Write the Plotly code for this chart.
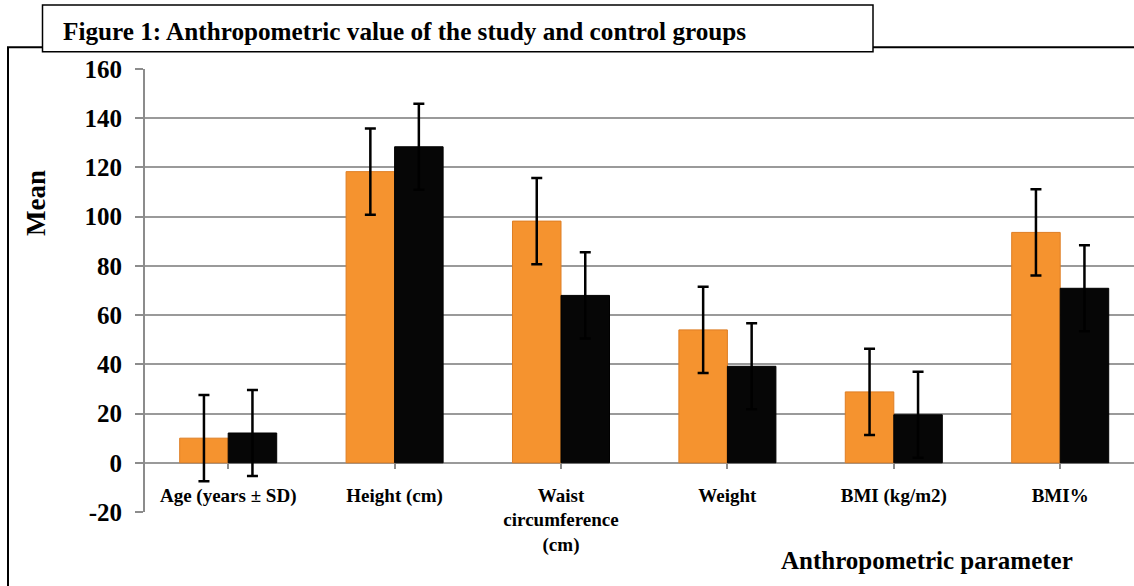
import plotly.graph_objects as go

categories = ["Age (years ± SD)", "Height (cm)", "Waist<br>circumference<br>(cm)",
              "Weight", "BMI (kg/m2)", "BMI%"]
study_means = [10.0, 118.3, 98.2, 54.0, 28.8, 93.6]
control_means = [12.1, 128.4, 68.0, 39.2, 19.5, 70.9]
study_sd = [17.5, 17.5, 17.5, 17.5, 17.5, 17.5]
control_sd = [17.5, 17.5, 17.5, 17.5, 17.5, 17.5]
y_ticks = [-20, 0, 20, 40, 60, 80, 100, 120, 140, 160]
y_tick_text = ["-20", "0", "20", "40", "60", "80", "100", "120", "140", "160"]

W_IMG, H_IMG = 1134, 586
L, R_PX, T, B_PX = 145, 1134, 69.3, 511.7
PW, PH = R_PX - L, B_PX - T


def xp(px):
    return (px - L) / PW


def yp(py):
    return (B_PX - py) / PH


FONT = "Liberation Serif"
x_idx = list(range(len(categories)))

fig = go.Figure()
fig.add_trace(go.Bar(
    x=x_idx, y=study_means, name="Study",
    marker=dict(color="#F5932F", line=dict(color="#DE7E24", width=1)),
    error_y=dict(type="data", array=study_sd, visible=True, color="black",
                 thickness=2.5, width=5.5),
))
fig.add_trace(go.Bar(
    x=x_idx, y=control_means, name="Control",
    marker=dict(color="#060606", line=dict(color="#000000", width=1)),
    error_y=dict(type="data", array=control_sd, visible=True, color="black",
                 thickness=2.5, width=5.5),
))

cat_w = (977 - 145) / 5.0
x_max = -0.5 + PW / cat_w

fig.update_layout(
    width=W_IMG, height=H_IMG,
    margin=dict(l=L, r=W_IMG - R_PX, t=T, b=H_IMG - B_PX, pad=0),
    paper_bgcolor="white", plot_bgcolor="white",
    barmode="group", bargap=0.417, bargroupgap=0,
    showlegend=False,
    xaxis=dict(
        range=[-0.5, x_max], tickmode="array", tickvals=x_idx, ticktext=categories,
        anchor="free", position=20 / 180, showgrid=False, showline=False,
        zeroline=False, ticks="outside", ticklen=5, tickcolor="#8C8C8C",
        tickwidth=1.5, tickson="boundaries",
        tickfont=dict(family=FONT, size=19, color="black", weight="bold"),
        ticklabelstandoff=10,
    ),
    yaxis=dict(
        range=[-20, 160], tickvals=y_ticks, ticktext=y_tick_text,
        showgrid=True, gridcolor="#9A9A9A",
        gridwidth=2, zeroline=True, zerolinecolor="#9A9A9A", zerolinewidth=2,
        showline=True, linecolor="#8C8C8C", linewidth=2, ticks="outside",
        ticklen=8, tickcolor="#8C8C8C", tickwidth=1.5,
        tickfont=dict(family=FONT, size=25, color="black", weight="bold"),
        ticklabelstandoff=8,
    ),
)

shapes = [
    dict(type="line", xref="paper", yref="paper", x0=xp(8), x1=xp(8), y0=yp(47.5), y1=yp(600),
         line=dict(color="black", width=2)),
    dict(type="line", xref="paper", yref="paper", x0=xp(7), x1=xp(1140), y0=yp(47.5), y1=yp(47.5),
         line=dict(color="black", width=2)),
    dict(type="rect", xref="paper", yref="paper", x0=xp(42.5), x1=xp(873), y0=yp(5.5), y1=yp(52),
         line=dict(color="black", width=1.5), fillcolor="white", layer="above"),
]
fig.update_layout(shapes=shapes)

fig.add_annotation(
    text="Figure 1: Anthropometric value of the study and control groups",
    xref="paper", yref="paper", x=xp(61), y=yp(32), xanchor="left", yanchor="middle",
    showarrow=False, font=dict(family=FONT, size=25.2, color="black", weight="bold"),
)
fig.add_annotation(
    text="Mean", xref="paper", yref="paper", x=xp(36), y=yp(203), textangle=-90,
    xanchor="center", yanchor="middle", showarrow=False,
    font=dict(family=FONT, size=27, color="black", weight="bold"),
)
fig.add_annotation(
    text="Anthropometric parameter", xref="paper", yref="paper", x=xp(927), y=yp(560),
    xanchor="center", yanchor="middle", showarrow=False,
    font=dict(family=FONT, size=25, color="black", weight="bold"),
)

fig.write_html("out.html", config={"displayModeBar": False},
               post_script="document.body.style.margin='0';document.body.style.padding='0';")
